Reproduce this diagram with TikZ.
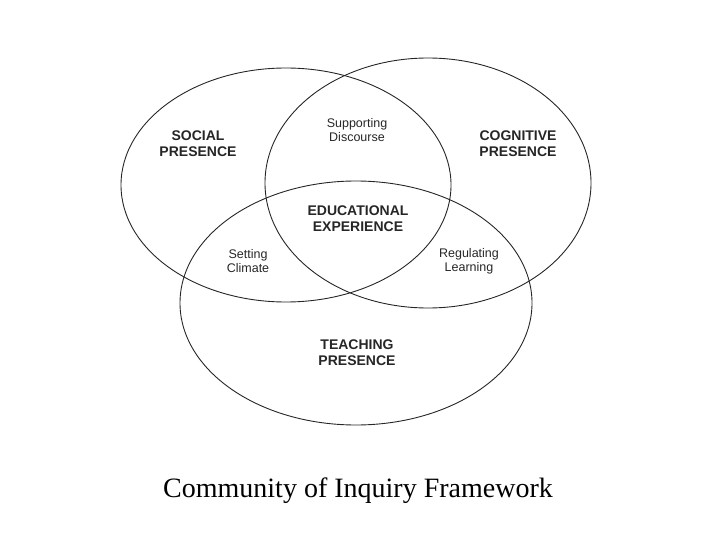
\documentclass[tikz,border=0pt]{standalone}
\usepackage{fontspec}
\setmainfont{Liberation Serif}
\newfontfamily\arialf{Liberation Sans}
\begin{document}
\begin{tikzpicture}[x=1pt,y=-1pt,
  ell/.style={draw=black!85,line width=0.9pt},
  big/.style={font=\arialf\fontsize{14}{16}\selectfont\bfseries,align=center,text=black!85},
  small/.style={font=\arialf\fontsize{12.5}{14}\selectfont,align=center,text=black!85}]
\useasboundingbox (0,0) rectangle (720,540);
\draw[ell] (286,185) ellipse [x radius=165, y radius=117];
\draw[ell] (428,183) ellipse [x radius=163, y radius=125];
\draw[ell] (356,303) ellipse [x radius=176, y radius=122];
\node[big] (soc) at (198,144) {SOCIAL\\PRESENCE};
\node[big] (cog) at (518,144) {COGNITIVE\\PRESENCE};
\node[big] (edu) at (358,219) {EDUCATIONAL\\EXPERIENCE};
\node[big] (tea) at (357,353) {TEACHING\\PRESENCE};
\node[small] (sup) at (357,130) {Supporting\\Discourse};
\node[small] (set) at (248,261) {Setting\\Climate};
\node[small] (reg) at (469,261) {Regulating\\Learning};
\node[font=\fontsize{28}{32}\selectfont] (cap) at (358,491) {Community of Inquiry Framework};
\end{tikzpicture}
\end{document}
